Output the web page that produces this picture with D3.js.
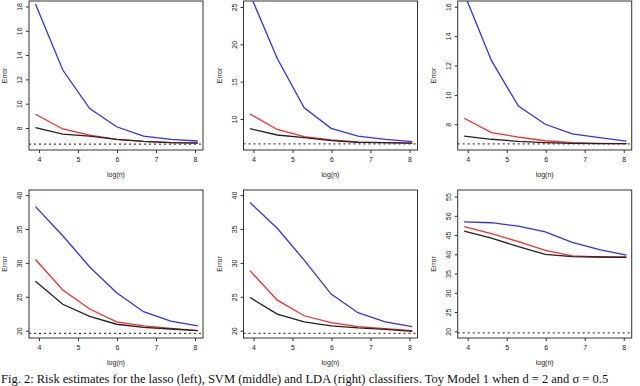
<!DOCTYPE html>
<html>
<head>
<meta charset="utf-8">
<script src="https://cdn.jsdelivr.net/npm/d3@7"></script>
<style>
  body { margin: 0; background: #fff; }
  svg { display: block; }
</style>
</head>
<body>
<script>
// log(n) for n = 50 ... 3200
var logN = [3.91, 4.61, 5.30, 5.99, 6.68, 7.38, 8.07];
var xTicks = [4, 5, 6, 7, 8];

// top row (three classifiers)
var lassoTopBlue  = [18.2, 12.77, 9.6, 8.1, 7.34, 7.07, 6.93];
var lassoTopRed   = [9.13, 7.92, 7.42, 7.07, 6.9, 6.8, 6.74];
var lassoTopBlack = [8.03, 7.5, 7.34, 7.07, 6.9, 6.8, 6.77];
var svmTopBlue    = [26.7, 18.1, 11.5, 8.75, 7.72, 7.28, 6.96];
var svmTopRed     = [10.67, 8.6, 7.63, 7.19, 6.92, 6.83, 6.74];
var svmTopBlack   = [8.7, 7.86, 7.5, 7.1, 6.87, 6.83, 6.78];
var ldaTopBlue    = [16.9, 12.33, 9.24, 8.0, 7.34, 7.09, 6.86];
var ldaTopRed     = [8.41, 7.43, 7.13, 6.88, 6.75, 6.7, 6.68];
var ldaTopBlack   = [7.2, 6.98, 6.84, 6.75, 6.7, 6.69, 6.68];

// bottom row
var lassoBotBlue  = [38.3, 34.0, 29.4, 25.6, 22.8, 21.4, 20.7];
var lassoBotRed   = [30.5, 26.0, 23.2, 21.3, 20.7, 20.35, 20.0];
var lassoBotBlack = [27.3, 23.9, 22.1, 20.95, 20.5, 20.25, 20.0];
var svmBotBlue    = [38.9, 35.1, 30.4, 25.4, 22.65, 21.3, 20.6];
var svmBotRed     = [28.85, 24.5, 22.2, 21.2, 20.6, 20.3, 20.0];
var svmBotBlack   = [24.9, 22.45, 21.3, 20.7, 20.4, 20.2, 19.9];
var ldaBotBlue    = [48.4, 48.2, 47.3, 45.8, 43.1, 41.2, 39.8];
var ldaBotRed     = [47.2, 45.4, 43.3, 41.0, 39.6, 39.3, 39.3];
var ldaBotBlack   = [46.0, 44.2, 42.0, 40.0, 39.4, 39.3, 39.2];

// bayes risk (dotted line)
var bayesTop = 6.67;
var bayesBot = 19.6;

// y ticks
var yTicksLassoTop = [8, 10, 12, 14, 16, 18];
var yTicksSvmTop   = [10, 15, 20, 25];
var yTicksLdaTop   = [8, 10, 12, 14, 16];
var yTicksBot      = [20, 25, 30, 35, 40];
var yTicksLdaBot   = [20, 25, 30, 35, 40, 45, 50, 55];

var width = 640, height = 386;

var svg = d3.select("body").append("svg")
    .attr("width", width)
    .attr("height", height);

var colLeft = [29, 243.5, 457.7];
var boxW = 174;
var rows = [{top: 1, bottom: 150}, {top: 190, bottom: 338}];

var panels = [
  {col: 0, row: 0, ylim: [6.19, 18.45], yTicks: yTicksLassoTop, bayes: bayesTop, lines: [lassoTopBlue, lassoTopRed, lassoTopBlack]},
  {col: 1, row: 0, ylim: [5.85, 25.8],  yTicks: yTicksSvmTop,   bayes: bayesTop, lines: [svmTopBlue, svmTopRed, svmTopBlack]},
  {col: 2, row: 0, ylim: [6.25, 16.39], yTicks: yTicksLdaTop,   bayes: bayesTop, lines: [ldaTopBlue, ldaTopRed, ldaTopBlack]},
  {col: 0, row: 1, ylim: [18.92, 40.75], yTicks: yTicksBot,     bayes: bayesBot, lines: [lassoBotBlue, lassoBotRed, lassoBotBlack]},
  {col: 1, row: 1, ylim: [18.92, 40.75], yTicks: yTicksBot,     bayes: bayesBot, lines: [svmBotBlue, svmBotRed, svmBotBlack]},
  {col: 2, row: 1, ylim: [18.26, 56.7], yTicks: yTicksLdaBot,   bayes: bayesBot, lines: [ldaBotBlue, ldaBotRed, ldaBotBlack]}
];

var lineColors = ["#3030ff", "#ff2a2a", "#222222"];

panels.forEach(function(p, i) {
  var left = colLeft[p.col];
  var top = rows[p.row].top, bottom = rows[p.row].bottom;

  var x = d3.scaleLinear().domain([3.744, 8.205]).range([left, left + boxW]);
  var y = d3.scaleLinear().domain(p.ylim).range([bottom, top]);

  // clip to plot box
  svg.append("clipPath").attr("id", "clip" + i)
    .append("rect")
    .attr("x", left).attr("y", top)
    .attr("width", boxW).attr("height", bottom - top);

  var g = svg.append("g").attr("clip-path", "url(#clip" + i + ")");

  // bayes risk
  g.append("line")
    .attr("x1", left).attr("x2", left + boxW)
    .attr("y1", y(p.bayes)).attr("y2", y(p.bayes))
    .attr("stroke", "#444")
    .attr("stroke-width", 1.2)
    .attr("stroke-dasharray", "2,3");

  var line = d3.line()
    .x(function(d, j) { return x(logN[j]); })
    .y(function(d) { return y(d); });

  // blue, red, black (black on top)
  p.lines.forEach(function(vals, k) {
    g.append("path")
      .datum(vals)
      .attr("d", line)
      .attr("fill", "none")
      .attr("stroke", lineColors[k])
      .attr("stroke-width", 1.3);
  });

  // box
  svg.append("rect")
    .attr("x", left).attr("y", top)
    .attr("width", boxW).attr("height", bottom - top)
    .attr("fill", "none")
    .attr("stroke", "#333")
    .attr("stroke-width", 1);

  // x axis
  var xa = svg.append("g")
    .attr("transform", "translate(0," + bottom + ")")
    .call(d3.axisBottom(x).tickValues(xTicks).tickFormat(d3.format("d")).tickSize(3).tickPadding(4));
  xa.select(".domain").remove();

  // y axis, labels parallel to axis
  var ya = svg.append("g")
    .attr("transform", "translate(" + left + ",0)")
    .call(d3.axisLeft(y).tickValues(p.yTicks).tickFormat(d3.format("d")).tickSize(3));
  ya.select(".domain").remove();
  ya.selectAll("text")
    .attr("transform", "rotate(-90)")
    .attr("x", 0).attr("y", -7).attr("dy", 0)
    .style("text-anchor", "middle");

  svg.selectAll(".tick text")
    .attr("font-family", "Liberation Sans, Arial, sans-serif")
    .attr("font-size", "7px")
    .attr("fill", "#222");
  svg.selectAll(".tick line").attr("stroke", "#333");

  // axis titles
  svg.append("text")
    .attr("x", left + boxW / 2)
    .attr("y", bottom + 27)
    .attr("text-anchor", "middle")
    .attr("font-family", "Liberation Sans, Arial, sans-serif")
    .attr("font-size", "7px")
    .attr("fill", "#222")
    .text("log(n)");

  svg.append("text")
    .attr("transform", "translate(" + (left - 22) + "," + ((top + bottom) / 2) + ") rotate(-90)")
    .attr("text-anchor", "middle")
    .attr("font-family", "Liberation Sans, Arial, sans-serif")
    .attr("font-size", "7px")
    .attr("fill", "#222")
    .text("Error");
});

// caption
svg.append("text")
  .attr("x", 1)
  .attr("y", 383)
  .attr("font-family", "Liberation Serif, Times New Roman, serif")
  .attr("font-size", "12.5px")
  .attr("fill", "#111")
  .text("Fig. 2: Risk estimates for the lasso (left), SVM (middle) and LDA (right) classifiers. Toy Model 1 when d = 2 and \u03c3 = 0.5");
</script>
</body>
</html>
